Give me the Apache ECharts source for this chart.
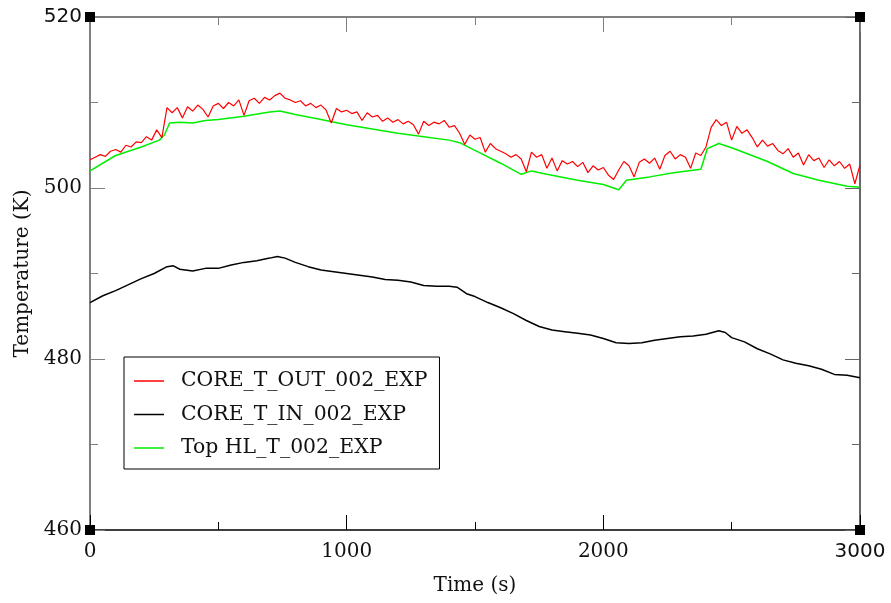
<!DOCTYPE html>
<html>
<head>
<meta charset="utf-8">
<script src="https://cdn.jsdelivr.net/npm/echarts@6/dist/echarts.min.js"></script>
<style>html,body{margin:0;padding:0;background:#fff;}#c{width:891px;height:603px;}</style>
</head>
<body>
<div id="c"></div>
<script>
// ---- data ----
var xTicks = [0, 1000, 2000, 3000];
var yTicks = [460, 480, 500, 520];
var seriesNames = ['CORE_T_OUT_002_EXP', 'CORE_T_IN_002_EXP', 'Top HL_T_002_EXP'];

var coreOut = [
[0,503.3],[20,503.6],[40,503.9],[60,503.7],[80,504.3],[100,504.5],[120,504.2],[140,505.0],[160,504.8],[180,505.4],
[200,505.3],[220,506.0],[240,505.6],[260,506.8],[280,505.9],[300,509.4],[320,508.8],[340,509.4],[360,508.2],[380,509.5],
[400,509.0],[420,509.7],[440,509.2],[460,508.3],[480,509.6],[500,509.9],[520,509.3],[540,510.0],[560,509.6],[580,510.3],
[600,508.5],[620,510.2],[640,510.5],[660,509.9],[680,510.6],[700,510.3],[720,510.8],[740,511.1],[760,510.5],[780,510.3],
[800,510.0],[820,510.2],[840,509.6],[860,509.9],[880,509.4],[900,509.7],[920,509.1],[940,507.6],[960,509.3],[980,508.9],
[1000,509.1],[1020,508.7],[1040,508.9],[1060,507.9],[1080,508.8],[1100,508.3],[1120,508.5],[1140,507.8],[1160,508.2],[1180,507.7],
[1200,508.0],[1220,507.5],[1240,507.8],[1260,507.4],[1280,506.3],[1300,507.8],[1320,507.3],[1340,507.7],[1360,507.5],[1380,507.9],
[1400,507.1],[1420,507.3],[1440,506.4],[1460,505.1],[1480,506.2],[1500,505.7],[1520,505.9],[1540,504.2],[1560,505.2],[1580,504.6],
[1600,504.3],[1620,504.0],[1640,503.6],[1660,503.9],[1680,503.4],[1700,501.9],[1720,504.2],[1740,503.6],[1760,503.9],[1780,502.3],
[1800,503.5],[1820,502.0],[1840,503.2],[1860,502.8],[1880,503.1],[1900,502.5],[1920,503.0],[1940,501.8],[1960,502.6],[1980,502.1],
[2000,502.4],[2020,501.5],[2040,501.0],[2060,502.1],[2080,503.1],[2100,502.6],[2120,501.3],[2140,503.0],[2160,503.4],[2180,502.9],
[2200,503.5],[2220,502.2],[2240,503.8],[2260,504.3],[2280,503.4],[2300,503.9],[2320,503.6],[2340,502.3],[2360,504.1],[2380,503.8],
[2400,504.8],[2420,507.1],[2440,508.0],[2460,507.3],[2480,507.7],[2500,505.6],[2520,507.2],[2540,506.4],[2560,506.8],[2580,505.9],
[2600,504.8],[2620,505.6],[2640,504.9],[2660,505.2],[2680,504.4],[2700,504.0],[2720,504.6],[2740,503.6],[2760,504.1],[2780,502.7],
[2800,503.9],[2820,503.2],[2840,503.5],[2860,502.4],[2880,503.3],[2900,502.6],[2920,503.1],[2940,502.3],[2960,502.8],[2980,500.5],
[3000,502.7]
];

var coreIn = [
[0,486.6],[50,487.4],[100,488.0],[150,488.7],[200,489.4],[250,490.0],[300,490.8],[325,490.9],[350,490.5],[400,490.3],
[450,490.6],[500,490.6],[550,491.0],[600,491.3],[650,491.5],[700,491.8],[730,492.0],[760,491.8],[800,491.3],[850,490.8],
[900,490.4],[950,490.2],[1000,490.0],[1050,489.8],[1100,489.6],[1150,489.3],[1200,489.2],[1250,489.0],[1300,488.6],[1350,488.5],
[1400,488.5],[1430,488.4],[1470,487.6],[1500,487.3],[1550,486.6],[1600,486.0],[1650,485.3],[1700,484.5],[1750,483.8],[1800,483.4],
[1850,483.2],[1900,483.0],[1950,482.8],[2000,482.4],[2050,481.9],[2100,481.8],[2150,481.9],[2200,482.2],[2250,482.4],[2300,482.6],
[2350,482.7],[2400,482.9],[2450,483.3],[2475,483.1],[2500,482.5],[2550,482.0],[2600,481.2],[2650,480.6],[2700,479.9],[2750,479.5],
[2800,479.2],[2850,478.8],[2900,478.2],[2950,478.1],[3000,477.8]
];

var topHL = [
[0,502.0],[100,503.8],[200,504.8],[270,505.6],[290,506.2],[310,507.6],[350,507.7],[400,507.6],[450,507.9],[500,508.0],
[600,508.4],[700,508.9],[740,509.0],[800,508.6],[900,508.0],[1000,507.4],[1100,506.9],[1200,506.4],[1300,506.0],[1400,505.6],
[1440,505.3],[1500,504.4],[1600,502.9],[1680,501.6],[1720,502.0],[1780,501.6],[1900,500.9],[2000,500.4],[2040,500.0],[2060,499.8],
[2090,500.9],[2180,501.3],[2280,501.8],[2380,502.2],[2405,504.6],[2450,505.2],[2500,504.7],[2640,503.1],[2740,501.7],[2840,500.9],
[2950,500.2],[3000,500.1]
];

var cornerMarks = [[0,460],[0,520],[3000,460],[3000,520]];

// ---- chart ----
var serif = 'DejaVu Serif';
var chart = echarts.init(document.getElementById('c'));
function lbl(v, sansVals) {
  return sansVals.indexOf(v) >= 0 ? '{s|' + v + '}' : String(v);
}
var richSans = { s: { fontFamily: 'DejaVu Sans', fontSize: 20, color: '#111' } };

chart.setOption({
  animation: false,
  backgroundColor: '#fff',
  grid: { left: 90, right: 31, top: 17, bottom: 73, containLabel: false },
  legend: {
    orient: 'vertical',
    left: 124, top: 357,
    data: seriesNames,
    backgroundColor: '#fff',
    borderColor: '#000', borderWidth: 1,
    padding: [14, 12, 11, 10],
    itemGap: 13.5,
    itemWidth: 30, itemHeight: 1.5,
    icon: 'rect',
    textStyle: { fontFamily: serif, fontSize: 20.4, color: '#111', padding: [0, 0, 0, 12] }
  },
  xAxis: [{
    type: 'value', min: 0, max: 3000, interval: 1000,
    name: 'Time (s)', nameLocation: 'middle', nameGap: 46,
    nameTextStyle: { fontFamily: serif, fontSize: 20, color: '#111' },
    axisLine: { onZero: false, lineStyle: { color: '#000', width: 1.5 } },
    axisTick: { inside: true, length: 15, lineStyle: { color: '#000', width: 1 } },
    minorTick: { show: true, splitNumber: 2, length: 8, lineStyle: { color: '#000', width: 1 } },
    axisLabel: { fontFamily: serif, fontSize: 20, color: '#111', margin: 12,
      formatter: function (v) { return lbl(v, [3000]); }, rich: richSans },
    splitLine: { show: false }
  }, {
    type: 'value', min: 0, max: 3000, interval: 1000, position: 'top',
    axisLine: { onZero: false, lineStyle: { color: '#808080', width: 2 } },
    axisTick: { inside: true, length: 15, lineStyle: { color: '#808080', width: 1 } },
    minorTick: { show: true, splitNumber: 2, length: 8, lineStyle: { color: '#808080', width: 1 } },
    axisLabel: { show: false }, splitLine: { show: false }
  }],
  yAxis: [{
    type: 'value', min: 460, max: 520, interval: 20,
    name: 'Temperature (K)', nameLocation: 'middle', nameGap: 53, nameRotate: 90,
    nameTextStyle: { fontFamily: serif, fontSize: 20, color: '#111' },
    axisLine: { show: true, onZero: false, lineStyle: { color: '#808080', width: 2 } },
    axisTick: { show: true, inside: true, length: 15, lineStyle: { color: '#808080', width: 1 } },
    minorTick: { show: true, splitNumber: 2, length: 8, lineStyle: { color: '#808080', width: 1 } },
    axisLabel: { fontFamily: serif, fontSize: 20, color: '#111', margin: 8,
      formatter: function (v) { return lbl(v, [520]); }, rich: richSans },
    splitLine: { show: false }
  }, {
    type: 'value', min: 460, max: 520, interval: 20, position: 'right',
    axisLine: { show: true, onZero: false, lineStyle: { color: '#333', width: 1.5 } },
    axisTick: { show: true, inside: true, length: 15, lineStyle: { color: '#666', width: 1 } },
    minorTick: { show: true, splitNumber: 2, length: 8, lineStyle: { color: '#666', width: 1 } },
    axisLabel: { show: false }, splitLine: { show: false }
  }],
  series: [
    { name: seriesNames[0], type: 'line', data: coreOut, showSymbol: false, symbol: 'none',
      lineStyle: { color: '#ff0000', width: 1.2 }, itemStyle: { color: '#ff0000' }, z: 4 },
    { name: seriesNames[1], type: 'line', data: coreIn, showSymbol: false, symbol: 'none',
      lineStyle: { color: '#000000', width: 1.5 }, itemStyle: { color: '#000000' }, z: 3 },
    { name: seriesNames[2], type: 'line', data: topHL, showSymbol: false, symbol: 'none',
      lineStyle: { color: '#00ee00', width: 1.5 }, itemStyle: { color: '#00ee00' }, z: 3 },
    { name: 'corners', type: 'scatter', data: cornerMarks, symbol: 'rect', symbolSize: 10,
      itemStyle: { color: '#000', opacity: 1 }, emphasis: { disabled: true }, silent: true, clip: false, z: 10 }
  ]
});
</script>
</body>
</html>
